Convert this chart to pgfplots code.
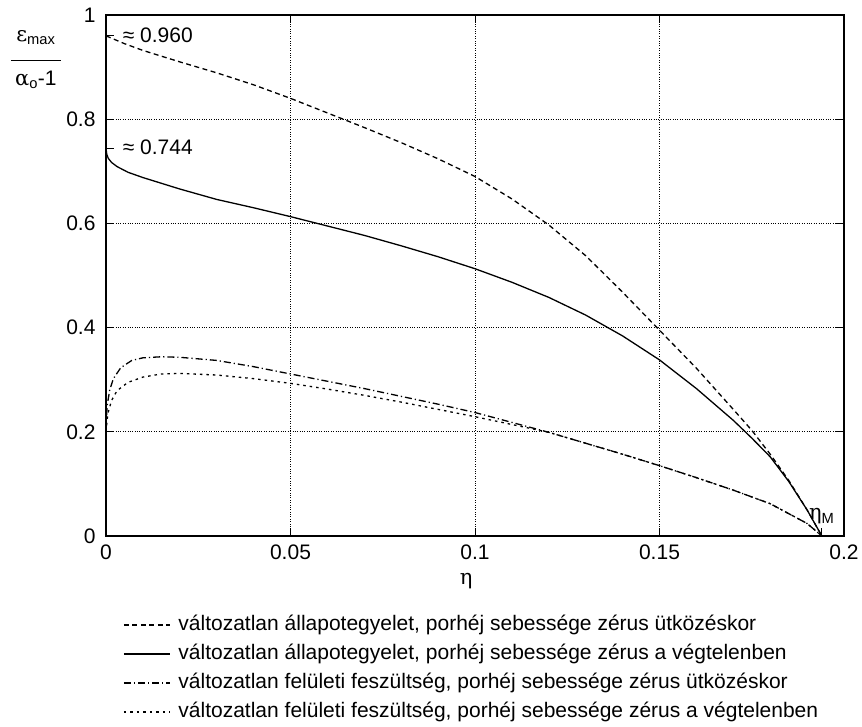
\documentclass[border=0pt]{standalone}
\usepackage{fontspec}
\setmainfont{Liberation Sans}
\newfontfamily\gr{DejaVu Serif}
\usepackage{pgfplots}
\pgfplotsset{compat=1.18}
\newcommand{\fs}{\fontsize{21bp}{24bp}\selectfont}
\begin{document}
\begin{tikzpicture}
\path[use as bounding box] (-106bp,-191bp) rectangle (756bp,536bp);
\begin{axis}[
  at={(0,0)}, anchor=south west,
  scale only axis, width=738bp, height=521bp,
  clip=false,
  xmin=0, xmax=0.2, ymin=0, ymax=1,
  xtick={0,0.05,0.1,0.15,0.2}, xticklabels={0,0.05,0.1,0.15,0.2},
  ytick={0,0.2,0.4,0.6,0.8,1}, yticklabels={0,0.2,0.4,0.6,0.8,1},
  tick align=inside, major tick length=8bp,
  tick style={line width=0.9bp, black},
  axis line style={line width=1.6bp},
  grid=major, major grid style={dotted, line width=0.9bp, black},
  every tick label/.append style={font=\fs},
  xticklabel style={yshift=-5bp},
  yticklabel style={xshift=-7bp},
  legend style={at={(rel axis cs:0.023,-0.15)}, anchor=north west, draw=none,
    font=\fs, row sep=8bp, inner sep=0pt,
    nodes={inner xsep=8bp, inner ysep=0pt, text height=16bp, text depth=5bp}},
  legend cell align=left,
  legend image code/.code={\draw[#1] (0bp,0bp) -- (46bp,0bp);},
  every axis plot/.append style={line width=1.3bp, black},
]
% dashed: changed state equation, velocity zero at impact
\addplot[dash pattern=on 5bp off 3.5bp] coordinates {
(0,0.960)(0.005,0.945)(0.01,0.932)(0.02,0.910)(0.03,0.889)(0.04,0.866)
(0.05,0.840)(0.06,0.812)(0.07,0.784)(0.08,0.755)(0.09,0.724)(0.1,0.690)
(0.11,0.647)(0.12,0.597)(0.13,0.538)(0.14,0.468)(0.15,0.395)(0.16,0.322)
(0.17,0.243)(0.175,0.203)(0.18,0.157)(0.185,0.107)(0.19,0.050)(0.194,0)};
\addlegendentry{változatlan állapotegyelet, porhéj sebessége zérus ütközéskor}
% solid
\addplot[solid] coordinates {
(0,0.744)(0.0002,0.733)(0.0006,0.725)(0.0015,0.717)(0.003,0.709)(0.006,0.698)(0.01,0.688)
(0.02,0.666)(0.03,0.646)(0.04,0.630)(0.05,0.613)(0.06,0.595)(0.07,0.577)
(0.08,0.557)(0.09,0.536)(0.1,0.513)(0.11,0.487)(0.12,0.458)(0.13,0.424)
(0.14,0.384)(0.15,0.338)(0.16,0.283)(0.17,0.222)(0.175,0.188)(0.18,0.152)
(0.185,0.105)(0.19,0.050)(0.194,0)};
\addlegendentry{változatlan állapotegyelet, porhéj sebessége zérus a végtelenben}
% dash-dot
\addplot[dash pattern=on 7bp off 3bp on 1.2bp off 3bp] coordinates {
(0,0.205)(0.0003,0.250)(0.001,0.280)(0.002,0.302)(0.004,0.323)(0.007,0.337)
(0.01,0.342)(0.015,0.344)(0.02,0.343)(0.03,0.337)(0.04,0.325)(0.05,0.311)
(0.06,0.297)(0.07,0.283)(0.08,0.268)(0.09,0.253)(0.1,0.237)(0.11,0.218)
(0.12,0.199)(0.13,0.178)(0.14,0.157)(0.15,0.135)(0.16,0.112)(0.17,0.088)
(0.18,0.062)(0.19,0.024)(0.194,0)};
\addlegendentry{változatlan felületi feszültség, porhéj sebessége zérus ütközéskor}
% dotted
\addplot[dash pattern=on 2.5bp off 4bp] coordinates {
(0,0.200)(0.0005,0.235)(0.0015,0.260)(0.003,0.279)(0.006,0.295)(0.01,0.305)
(0.015,0.311)(0.02,0.312)(0.03,0.309)(0.04,0.302)(0.05,0.293)(0.06,0.282)
(0.07,0.270)(0.08,0.257)(0.09,0.243)(0.1,0.229)(0.11,0.214)(0.12,0.199)
(0.13,0.178)(0.14,0.157)(0.15,0.135)(0.16,0.112)(0.17,0.088)(0.18,0.062)
(0.19,0.024)(0.194,0)};
\addlegendentry{változatlan felületi feszültség, porhéj sebessége zérus a végtelenben}
% annotations
\draw[line width=0.9bp] (axis cs:0,0.96) -- ++(8bp,0);
\draw[line width=0.9bp] (axis cs:0,0.744) -- ++(8bp,0);
\draw[line width=0.9bp] (axis cs:0.194,0) -- ++(0,8bp);
\node[anchor=west, font=\fs, inner sep=0pt] at (axis cs:0.0045,0.962) {≈ 0.960};
\node[anchor=west, font=\fs, inner sep=0pt] at (axis cs:0.0045,0.746) {≈ 0.744};
\node[anchor=south west, font=\fs, inner sep=0pt] at (axis cs:0.1905,0.022) {{\gr η}\textsubscript{M}};
\node[font=\fs, anchor=north] at (rel axis cs:0.488,-0.065) {\gr η};
\node[font=\fs, inner sep=0pt] at (rel axis cs:-0.095,0.917) {%
  \begin{tabular}{@{}c@{}}{\gr ε}\textsubscript{max}\\[-4bp]\rule{50bp}{1bp}\\[0bp]{\gr α}\textsubscript{o}-1\end{tabular}};
\end{axis}
\end{tikzpicture}
\end{document}
